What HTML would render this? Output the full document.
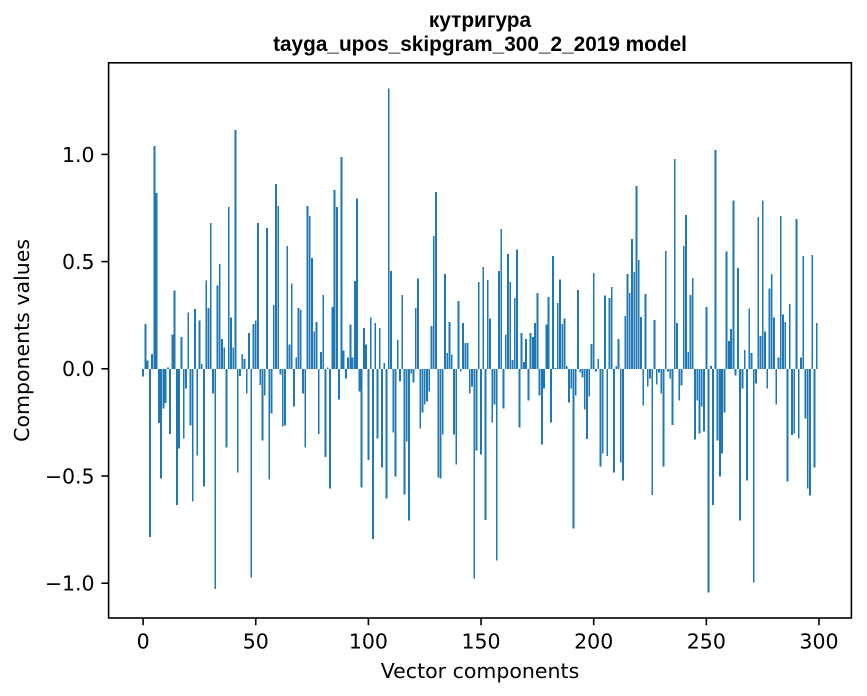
<!DOCTYPE html>
<html><head><meta charset="utf-8"><style>
html,body{margin:0;padding:0;background:#fff;}
svg{display:block;}
.t{font-family:"DejaVu Sans","Liberation Sans",sans-serif;font-size:20.5px;fill:#000;}
.ti{font-family:"Liberation Sans","DejaVu Sans",sans-serif;font-size:20.8px;font-weight:bold;fill:#000;}
</style></head><body>
<svg width="867" height="696" viewBox="0 0 867 696" xmlns="http://www.w3.org/2000/svg">
<rect x="0" y="0" width="867" height="696" fill="#fff"/>
<g transform="translate(142.2,368.8) scale(2.253,-213)" fill="#1f77b4" shape-rendering="crispEdges">
<rect x="0" y="-0.036" width=".8" height="0.036"/>
<rect x="1" width=".8" height="0.21"/>
<rect x="2" width=".8" height="0.04"/>
<rect x="3" y="-0.79" width=".8" height="0.79"/>
<rect x="4" width=".8" height="0.07"/>
<rect x="5" width=".8" height="1.047"/>
<rect x="6" width=".8" height="0.826"/>
<rect x="7" y="-0.255" width=".8" height="0.255"/>
<rect x="8" y="-0.515" width=".8" height="0.515"/>
<rect x="9" y="-0.186" width=".8" height="0.186"/>
<rect x="10" y="-0.16" width=".8" height="0.16"/>
<rect x="11" width=".8" height="0.006"/>
<rect x="12" y="-0.305" width=".8" height="0.305"/>
<rect x="13" width=".8" height="0.16"/>
<rect x="14" width=".8" height="0.368"/>
<rect x="15" y="-0.64" width=".8" height="0.64"/>
<rect x="16" y="-0.374" width=".8" height="0.374"/>
<rect x="17" width=".8" height="0.15"/>
<rect x="18" y="-0.327" width=".8" height="0.327"/>
<rect x="19" y="-0.092" width=".8" height="0.092"/>
<rect x="20" width=".8" height="0.264"/>
<rect x="21" y="-0.266" width=".8" height="0.266"/>
<rect x="22" y="-0.623" width=".8" height="0.623"/>
<rect x="23" width=".8" height="0.28"/>
<rect x="24" y="-0.407" width=".8" height="0.407"/>
<rect x="25" width=".8" height="0.227"/>
<rect x="26" width=".8" height="0.023"/>
<rect x="27" y="-0.552" width=".8" height="0.552"/>
<rect x="28" width=".8" height="0.415"/>
<rect x="29" width=".8" height="0.286"/>
<rect x="30" width=".8" height="0.685"/>
<rect x="31" y="-0.116" width=".8" height="0.116"/>
<rect x="32" y="-1.034" width=".8" height="1.034"/>
<rect x="33" width=".8" height="0.39"/>
<rect x="34" width=".8" height="0.493"/>
<rect x="35" width=".8" height="0.14"/>
<rect x="36" width=".8" height="0.099"/>
<rect x="37" y="-0.369" width=".8" height="0.369"/>
<rect x="38" width=".8" height="0.76"/>
<rect x="39" width=".8" height="0.24"/>
<rect x="40" width=".8" height="0.099"/>
<rect x="41" width=".8" height="1.122"/>
<rect x="42" y="-0.487" width=".8" height="0.487"/>
<rect x="43" y="-0.033" width=".8" height="0.033"/>
<rect x="44" width=".8" height="0.07"/>
<rect x="45" width=".8" height="0.047"/>
<rect x="46" y="-0.116" width=".8" height="0.116"/>
<rect x="47" width=".8" height="0.169"/>
<rect x="48" y="-0.98" width=".8" height="0.98"/>
<rect x="49" width=".8" height="0.211"/>
<rect x="50" width=".8" height="0.227"/>
<rect x="51" width=".8" height="0.685"/>
<rect x="52" y="-0.075" width=".8" height="0.075"/>
<rect x="53" y="-0.336" width=".8" height="0.336"/>
<rect x="54" y="-0.125" width=".8" height="0.125"/>
<rect x="55" width=".8" height="0.662"/>
<rect x="56" y="-0.52" width=".8" height="0.52"/>
<rect x="57" y="-0.21" width=".8" height="0.21"/>
<rect x="58" width=".8" height="0.30"/>
<rect x="59" width=".8" height="0.868"/>
<rect x="60" width=".8" height="0.765"/>
<rect x="61" y="-0.027" width=".8" height="0.027"/>
<rect x="62" y="-0.27" width=".8" height="0.27"/>
<rect x="63" y="-0.266" width=".8" height="0.266"/>
<rect x="64" width=".8" height="0.577"/>
<rect x="65" width=".8" height="0.113"/>
<rect x="66" width=".8" height="0.40"/>
<rect x="67" y="-0.177" width=".8" height="0.177"/>
<rect x="68" width=".8" height="0.052"/>
<rect x="69" width=".8" height="0.286"/>
<rect x="70" width=".8" height="0.277"/>
<rect x="71" y="-0.116" width=".8" height="0.116"/>
<rect x="72" y="-0.369" width=".8" height="0.369"/>
<rect x="73" width=".8" height="0.765"/>
<rect x="74" width=".8" height="0.718"/>
<rect x="75" width=".8" height="0.52"/>
<rect x="76" width=".8" height="0.174"/>
<rect x="77" width=".8" height="0.22"/>
<rect x="78" y="-0.305" width=".8" height="0.305"/>
<rect x="79" width=".8" height="0.08"/>
<rect x="80" width=".8" height="0.347"/>
<rect x="81" y="-0.413" width=".8" height="0.413"/>
<rect x="82" width=".8" height="0.005"/>
<rect x="83" y="-0.562" width=".8" height="0.562"/>
<rect x="84" width=".8" height="0.29"/>
<rect x="85" width=".8" height="0.84"/>
<rect x="86" width=".8" height="0.76"/>
<rect x="87" y="-0.144" width=".8" height="0.144"/>
<rect x="88" width=".8" height="0.995"/>
<rect x="89" width=".8" height="0.085"/>
<rect x="90" y="-0.045" width=".8" height="0.045"/>
<rect x="91" width=".8" height="0.052"/>
<rect x="92" width=".8" height="0.207"/>
<rect x="93" width=".8" height="0.052"/>
<rect x="94" width=".8" height="0.413"/>
<rect x="95" width=".8" height="0.80"/>
<rect x="96" y="-0.106" width=".8" height="0.106"/>
<rect x="97" y="-0.557" width=".8" height="0.557"/>
<rect x="98" width=".8" height="0.192"/>
<rect x="99" width=".8" height="0.113"/>
<rect x="100" y="-0.427" width=".8" height="0.427"/>
<rect x="101" width=".8" height="0.24"/>
<rect x="102" y="-0.80" width=".8" height="0.80"/>
<rect x="103" width=".8" height="0.216"/>
<rect x="104" y="-0.327" width=".8" height="0.327"/>
<rect x="105" width=".8" height="0.192"/>
<rect x="106" y="-0.463" width=".8" height="0.463"/>
<rect x="107" width=".8" height="0.028"/>
<rect x="108" y="-0.609" width=".8" height="0.609"/>
<rect x="109" width=".8" height="1.315"/>
<rect x="110" width=".8" height="0.46"/>
<rect x="111" y="-0.30" width=".8" height="0.30"/>
<rect x="112" y="-0.505" width=".8" height="0.505"/>
<rect x="113" width=".8" height="0.136"/>
<rect x="114" y="-0.06" width=".8" height="0.06"/>
<rect x="115" width=".8" height="0.347"/>
<rect x="116" y="-0.59" width=".8" height="0.59"/>
<rect x="117" y="-0.341" width=".8" height="0.341"/>
<rect x="118" y="-0.712" width=".8" height="0.712"/>
<rect x="119" y="-0.022" width=".8" height="0.022"/>
<rect x="120" y="-0.064" width=".8" height="0.064"/>
<rect x="121" width=".8" height="0.286"/>
<rect x="122" width=".8" height="0.423"/>
<rect x="123" y="-0.28" width=".8" height="0.28"/>
<rect x="124" y="-0.205" width=".8" height="0.205"/>
<rect x="125" y="-0.167" width=".8" height="0.167"/>
<rect x="126" y="-0.153" width=".8" height="0.153"/>
<rect x="127" y="-0.106" width=".8" height="0.106"/>
<rect x="128" width=".8" height="0.20"/>
<rect x="129" width=".8" height="0.624"/>
<rect x="130" width=".8" height="0.831"/>
<rect x="131" y="-0.51" width=".8" height="0.51"/>
<rect x="132" y="-0.515" width=".8" height="0.515"/>
<rect x="133" y="-0.308" width=".8" height="0.308"/>
<rect x="134" width=".8" height="0.446"/>
<rect x="135" width=".8" height="0.075"/>
<rect x="136" width=".8" height="0.22"/>
<rect x="137" width=".8" height="0.066"/>
<rect x="138" y="-0.308" width=".8" height="0.308"/>
<rect x="139" y="-0.45" width=".8" height="0.45"/>
<rect x="140" width=".8" height="0.319"/>
<rect x="141" y="-0.013" width=".8" height="0.013"/>
<rect x="142" width=".8" height="0.216"/>
<rect x="143" width=".8" height="0.122"/>
<rect x="144" width=".8" height="0.122"/>
<rect x="145" y="-0.116" width=".8" height="0.116"/>
<rect x="146" y="-0.083" width=".8" height="0.083"/>
<rect x="147" y="-0.984" width=".8" height="0.984"/>
<rect x="148" y="-0.383" width=".8" height="0.383"/>
<rect x="149" width=".8" height="0.408"/>
<rect x="150" y="-0.402" width=".8" height="0.402"/>
<rect x="151" width=".8" height="0.479"/>
<rect x="152" y="-0.709" width=".8" height="0.709"/>
<rect x="153" width=".8" height="0.418"/>
<rect x="154" width=".8" height="0.235"/>
<rect x="155" y="-0.252" width=".8" height="0.252"/>
<rect x="156" y="-0.167" width=".8" height="0.167"/>
<rect x="157" y="-0.90" width=".8" height="0.90"/>
<rect x="158" width=".8" height="0.46"/>
<rect x="159" width=".8" height="0.657"/>
<rect x="160" y="-0.186" width=".8" height="0.186"/>
<rect x="161" width=".8" height="0.16"/>
<rect x="162" width=".8" height="0.54"/>
<rect x="163" width=".8" height="0.408"/>
<rect x="164" width=".8" height="0.042"/>
<rect x="165" width=".8" height="0.333"/>
<rect x="166" width=".8" height="0.559"/>
<rect x="167" y="-0.275" width=".8" height="0.275"/>
<rect x="168" width=".8" height="0.169"/>
<rect x="169" width=".8" height="0.033"/>
<rect x="170" width=".8" height="0.141"/>
<rect x="171" y="-0.149" width=".8" height="0.149"/>
<rect x="172" width=".8" height="0.169"/>
<rect x="173" width=".8" height="0.15"/>
<rect x="174" width=".8" height="0.216"/>
<rect x="175" width=".8" height="0.357"/>
<rect x="176" y="-0.125" width=".8" height="0.125"/>
<rect x="177" y="-0.355" width=".8" height="0.355"/>
<rect x="178" y="-0.092" width=".8" height="0.092"/>
<rect x="179" width=".8" height="0.207"/>
<rect x="180" width=".8" height="0.338"/>
<rect x="181" y="-0.252" width=".8" height="0.252"/>
<rect x="182" width=".8" height="0.53"/>
<rect x="183" width=".8" height="0.003"/>
<rect x="184" width=".8" height="0.31"/>
<rect x="185" width=".8" height="0.42"/>
<rect x="186" width=".8" height="0.211"/>
<rect x="187" width=".8" height="0.235"/>
<rect x="188" width=".8" height="0.014"/>
<rect x="189" y="-0.158" width=".8" height="0.158"/>
<rect x="190" y="-0.092" width=".8" height="0.092"/>
<rect x="191" y="-0.75" width=".8" height="0.75"/>
<rect x="192" y="-0.125" width=".8" height="0.125"/>
<rect x="193" width=".8" height="0.37"/>
<rect x="194" y="-0.017" width=".8" height="0.017"/>
<rect x="195" y="-0.04" width=".8" height="0.04"/>
<rect x="196" y="-0.19" width=".8" height="0.19"/>
<rect x="197" y="-0.33" width=".8" height="0.33"/>
<rect x="198" y="-0.13" width=".8" height="0.13"/>
<rect x="199" width=".8" height="0.117"/>
<rect x="200" width=".8" height="0.45"/>
<rect x="201" y="-0.013" width=".8" height="0.013"/>
<rect x="202" width=".8" height="0.047"/>
<rect x="203" y="-0.458" width=".8" height="0.458"/>
<rect x="204" y="-0.397" width=".8" height="0.397"/>
<rect x="205" width=".8" height="0.343"/>
<rect x="206" y="-0.41" width=".8" height="0.41"/>
<rect x="207" width=".8" height="0.333"/>
<rect x="208" width=".8" height="0.385"/>
<rect x="209" y="-0.487" width=".8" height="0.487"/>
<rect x="210" width=".8" height="0.014"/>
<rect x="211" width=".8" height="0.141"/>
<rect x="212" y="-0.44" width=".8" height="0.44"/>
<rect x="213" y="-0.524" width=".8" height="0.524"/>
<rect x="214" width=".8" height="0.249"/>
<rect x="215" width=".8" height="0.446"/>
<rect x="216" width=".8" height="0.357"/>
<rect x="217" width=".8" height="0.61"/>
<rect x="218" width=".8" height="0.455"/>
<rect x="219" width=".8" height="0.859"/>
<rect x="220" width=".8" height="0.51"/>
<rect x="221" width=".8" height="0.244"/>
<rect x="222" y="-0.172" width=".8" height="0.172"/>
<rect x="223" width=".8" height="0.352"/>
<rect x="224" y="-0.083" width=".8" height="0.083"/>
<rect x="225" y="-0.045" width=".8" height="0.045"/>
<rect x="226" y="-0.592" width=".8" height="0.592"/>
<rect x="227" width=".8" height="0.23"/>
<rect x="228" y="-0.074" width=".8" height="0.074"/>
<rect x="229" y="-0.017" width=".8" height="0.017"/>
<rect x="230" y="-0.116" width=".8" height="0.116"/>
<rect x="231" y="-0.458" width=".8" height="0.458"/>
<rect x="232" width=".8" height="0.554"/>
<rect x="233" y="-0.013" width=".8" height="0.013"/>
<rect x="234" y="-0.045" width=".8" height="0.045"/>
<rect x="235" y="-0.263" width=".8" height="0.263"/>
<rect x="236" width=".8" height="0.986"/>
<rect x="237" width=".8" height="0.216"/>
<rect x="238" y="-0.149" width=".8" height="0.149"/>
<rect x="239" y="-0.078" width=".8" height="0.078"/>
<rect x="240" width=".8" height="0.577"/>
<rect x="241" width=".8" height="0.723"/>
<rect x="242" width=".8" height="0.08"/>
<rect x="243" width=".8" height="0.347"/>
<rect x="244" width=".8" height="0.427"/>
<rect x="245" y="-0.332" width=".8" height="0.332"/>
<rect x="246" y="-0.149" width=".8" height="0.149"/>
<rect x="247" y="-0.304" width=".8" height="0.304"/>
<rect x="248" y="-0.177" width=".8" height="0.177"/>
<rect x="249" y="-0.294" width=".8" height="0.294"/>
<rect x="250" width=".8" height="0.29"/>
<rect x="251" y="-1.05" width=".8" height="1.05"/>
<rect x="252" width=".8" height="0.014"/>
<rect x="253" y="-0.64" width=".8" height="0.64"/>
<rect x="254" width=".8" height="1.028"/>
<rect x="255" y="-0.336" width=".8" height="0.336"/>
<rect x="256" y="-0.505" width=".8" height="0.505"/>
<rect x="257" y="-0.397" width=".8" height="0.397"/>
<rect x="258" y="-0.205" width=".8" height="0.205"/>
<rect x="259" width=".8" height="0.55"/>
<rect x="260" width=".8" height="0.131"/>
<rect x="261" width=".8" height="0.188"/>
<rect x="262" width=".8" height="0.789"/>
<rect x="263" y="-0.031" width=".8" height="0.031"/>
<rect x="264" width=".8" height="0.474"/>
<rect x="265" y="-0.712" width=".8" height="0.712"/>
<rect x="266" y="-0.092" width=".8" height="0.092"/>
<rect x="267" width=".8" height="0.089"/>
<rect x="268" y="-0.524" width=".8" height="0.524"/>
<rect x="269" width=".8" height="0.282"/>
<rect x="270" width=".8" height="0.075"/>
<rect x="271" y="-1.003" width=".8" height="1.003"/>
<rect x="272" y="-0.069" width=".8" height="0.069"/>
<rect x="273" width=".8" height="0.712"/>
<rect x="274" width=".8" height="0.155"/>
<rect x="275" width=".8" height="0.789"/>
<rect x="276" width=".8" height="0.174"/>
<rect x="277" y="-0.092" width=".8" height="0.092"/>
<rect x="278" width=".8" height="0.376"/>
<rect x="279" width=".8" height="0.446"/>
<rect x="280" width=".8" height="0.24"/>
<rect x="281" y="-0.167" width=".8" height="0.167"/>
<rect x="282" width=".8" height="0.052"/>
<rect x="283" width=".8" height="0.718"/>
<rect x="284" width=".8" height="0.254"/>
<rect x="285" width=".8" height="0.22"/>
<rect x="286" y="-0.53" width=".8" height="0.53"/>
<rect x="287" width=".8" height="0.305"/>
<rect x="288" y="-0.31" width=".8" height="0.31"/>
<rect x="289" y="-0.304" width=".8" height="0.304"/>
<rect x="290" width=".8" height="0.704"/>
<rect x="291" y="-0.327" width=".8" height="0.327"/>
<rect x="292" width=".8" height="0.052"/>
<rect x="293" width=".8" height="0.53"/>
<rect x="294" y="-0.233" width=".8" height="0.233"/>
<rect x="295" y="-0.563" width=".8" height="0.563"/>
<rect x="296" y="-0.596" width=".8" height="0.596"/>
<rect x="297" width=".8" height="0.535"/>
<rect x="298" y="-0.463" width=".8" height="0.463"/>
<rect x="299" width=".8" height="0.216"/>
</g>
<rect x="108.6" y="62.8" width="742.8" height="555.2" fill="none" stroke="#000" stroke-width="1.6"/>
<g stroke="#000" stroke-width="1.6">
<line x1="101.4" y1="583.2" x2="108.6" y2="583.2"/>
<line x1="101.4" y1="476" x2="108.6" y2="476"/>
<line x1="101.4" y1="368.8" x2="108.6" y2="368.8"/>
<line x1="101.4" y1="261.6" x2="108.6" y2="261.6"/>
<line x1="101.4" y1="154.4" x2="108.6" y2="154.4"/>
<line x1="143.1" y1="618" x2="143.1" y2="625.2"/>
<line x1="255.75" y1="618" x2="255.75" y2="625.2"/>
<line x1="368.4" y1="618" x2="368.4" y2="625.2"/>
<line x1="481.05" y1="618" x2="481.05" y2="625.2"/>
<line x1="593.7" y1="618" x2="593.7" y2="625.2"/>
<line x1="706.35" y1="618" x2="706.35" y2="625.2"/>
<line x1="819" y1="618" x2="819" y2="625.2"/>
</g>
<g class="t" text-anchor="end">
<text x="94.6" y="590.6">−1.0</text>
<text x="94.6" y="483.4">−0.5</text>
<text x="94.6" y="376.2">0.0</text>
<text x="94.6" y="269">0.5</text>
<text x="94.6" y="161.8">1.0</text>
</g>
<g class="t" text-anchor="middle">
<text x="143.1" y="648.5">0</text>
<text x="255.75" y="648.5">50</text>
<text x="368.4" y="648.5">100</text>
<text x="481.05" y="648.5">150</text>
<text x="593.7" y="648.5">200</text>
<text x="706.35" y="648.5">250</text>
<text x="819" y="648.5">300</text>
<text x="480" y="678">Vector components</text>
<text transform="translate(29,340.4) rotate(-90)" x="0" y="0">Components values</text>
</g>
<g class="ti" text-anchor="middle">
<text x="480" y="27">кутригура</text>
<text x="480" y="51">tayga_upos_skipgram_300_2_2019 model</text>
</g>
</svg>
</body></html>
